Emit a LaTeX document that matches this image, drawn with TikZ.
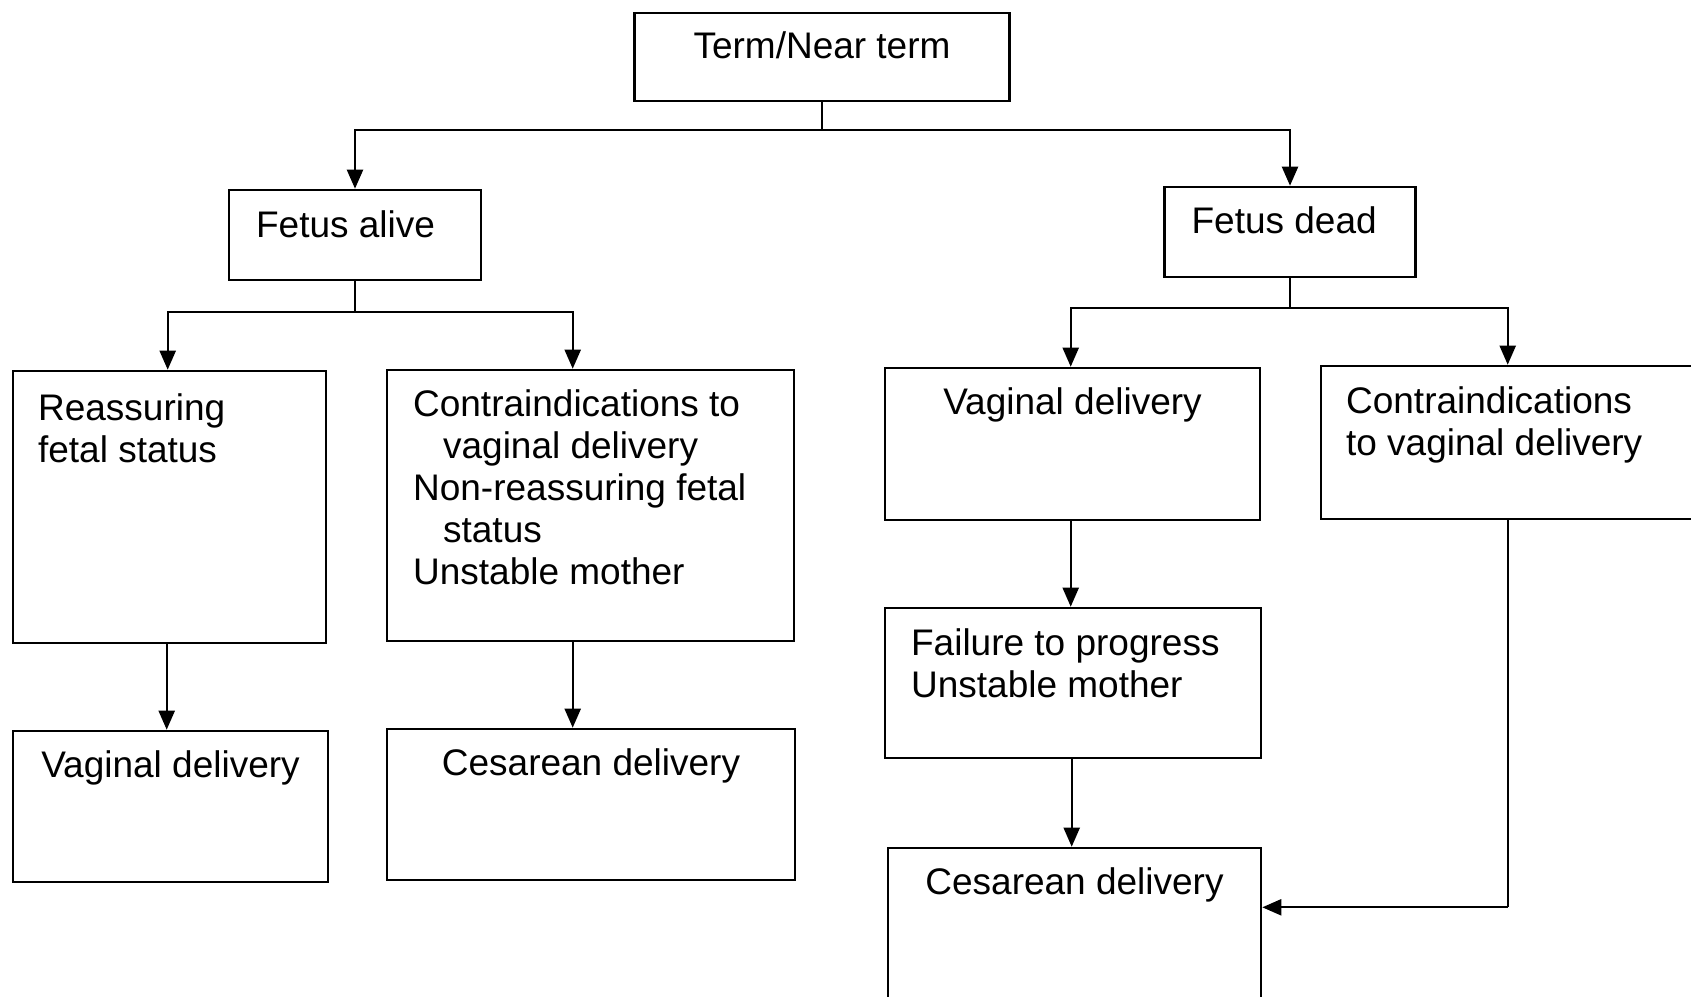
\documentclass[tikz,border=0pt]{standalone}
\usepackage{fontspec}
\setmainfont{Liberation Sans}
\usetikzlibrary{arrows.meta,calc}
\begin{document}
\begin{tikzpicture}[x=0.5pt,y=-0.5pt,
  box/.style={draw=black,line width=1.3pt,rectangle,inner sep=0pt},
  txt/.style={inner sep=0pt,font=\fontsize{18.5}{21}\selectfont,align=left},
  conn/.style={line width=1.1pt,draw=black},
  arr/.style={conn,-{Triangle[length=9.5pt,width=8pt]}}]
\clip (0,0) rectangle (1691,996);
\fill[white] (0,0) rectangle (1691,996);
% boxes
\node[box,minimum width=187.5pt,minimum height=44pt] (top) at (822,57) {};
\node[box,minimum width=126pt,minimum height=45pt] (alive) at (355,235) {};
\node[box,minimum width=125.5pt,minimum height=45pt] (dead) at (1290,232) {};
\node[box,minimum width=156.5pt,minimum height=136pt] (reass) at (169.5,507) {};
\node[box,minimum width=203.5pt,minimum height=135.5pt] (contraL) at (590.5,505.5) {};
\node[box,minimum width=157.5pt,minimum height=75.5pt] (vagL) at (170.5,806.5) {};
\node[box,minimum width=204pt,minimum height=75.5pt] (cesL) at (591,804.5) {};
\node[box,minimum width=187.5pt,minimum height=76pt] (vagR) at (1072.5,444) {};
\node[box,minimum width=200pt,minimum height=76.5pt] (contraR) at (1521,442.5) {};
\node[box,minimum width=188pt,minimum height=75pt] (fail) at (1073,683) {};
\node[box,minimum width=186.5pt,minimum height=81pt] (cesR) at (1074.5,929) {};
% texts
\node[txt,anchor=north] (topT) at ($(top.north)+(0,20)$) {Term/Near term};
\node[txt,anchor=north west] (aliveT) at ($(alive.north west)+(28,22)$) {Fetus alive};
\node[txt,anchor=north west] (deadT) at ($(dead.north west)+(28,21)$) {Fetus dead};
\node[txt,anchor=north west] (reassT) at ($(reass.north west)+(26,24)$) {Reassuring\\fetal status};
\node[txt,anchor=north west] (contraLT) at ($(contraL.north west)+(27,21)$) {Contraindications to\\\hspace*{15pt}vaginal delivery\\Non-reassuring fetal\\\hspace*{15pt}status\\Unstable mother};
\node[txt,anchor=north] (vagLT) at ($(vagL.north)+(0,21)$) {Vaginal delivery};
\node[txt,anchor=north] (cesLT) at ($(cesL.north)+(0,21)$) {Cesarean delivery};
\node[txt,anchor=north] (vagRT) at ($(vagR.north)+(0,21)$) {Vaginal delivery};
\node[txt,anchor=north west] (contraRT) at ($(contraR.north west)+(26,22)$) {Contraindications\\to vaginal delivery};
\node[txt,anchor=north west] (failT) at ($(fail.north west)+(27,22)$) {Failure to progress\\Unstable mother};
\node[txt,anchor=north] (cesRT) at ($(cesR.north)+(0,21)$) {Cesarean delivery};
% junctions
\coordinate (j0) at ($(top.south)+(0,28)$);
\coordinate (j1) at ($(alive.south)+(0,31)$);
\coordinate (j2) at ($(dead.south)+(0,30)$);
\coordinate (bend) at ($(contraR.south west)+(188,387)$);
% connectors
\draw[conn] (top.south) -- (j0);
\draw[arr] (j0) -| (alive.north);
\draw[arr] (j0) -| (dead.north);
\draw[conn] (alive.south) -- (j1);
\draw[arr] (j1) -| ($(reass.north west)+(156,0)$);
\draw[arr] (j1) -| ($(contraL.north west)+(187,0)$);
\draw[conn] (dead.south) -- (j2);
\draw[arr] (j2) -| ($(vagR.north west)+(187,0)$);
\draw[arr] (j2) -| ($(contraR.north west)+(188,0)$);
\draw[arr] ($(reass.south west)+(155,0)$) -- ($(vagL.north west)+(155,0)$);
\draw[arr] ($(contraL.south west)+(187,0)$) -- ($(cesL.north west)+(187,0)$);
\draw[arr] ($(vagR.south west)+(187,0)$) -- ($(fail.north west)+(187,0)$);
\draw[arr] ($(fail.south west)+(188,0)$) -- ($(cesR.north west)+(185,0)$);
\draw[conn] ($(contraR.south west)+(188,0)$) -- (bend);
\draw[arr] (bend) -- (bend -| cesR.east);
\end{tikzpicture}
\end{document}
